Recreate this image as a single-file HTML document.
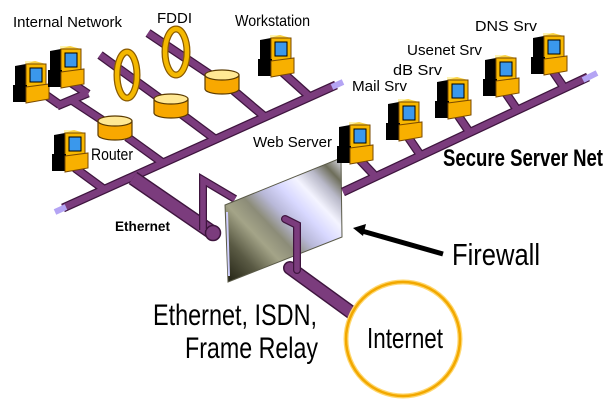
<!DOCTYPE html>
<html><head><meta charset="utf-8"><style>
html,body{margin:0;padding:0;background:#fff;}
svg{display:block;}
text{font-family:"Liberation Sans",Arial,sans-serif;fill:#000;}
</style></head><body>
<svg width="612" height="410" viewBox="0 0 612 410" xmlns="http://www.w3.org/2000/svg">
<defs>
<linearGradient id="fw" x1="0" y1="1" x2="1" y2="0">
<stop offset="0" stop-color="#1e1e10"/>
<stop offset="0.18" stop-color="#5a5a44"/>
<stop offset="0.32" stop-color="#a4a488"/>
<stop offset="0.42" stop-color="#8c8c78"/>
<stop offset="0.52" stop-color="#b8b8d8"/>
<stop offset="0.62" stop-color="#d8d8ff"/>
<stop offset="0.72" stop-color="#f4f4ff"/>
<stop offset="0.82" stop-color="#b8b8c8"/>
<stop offset="0.9" stop-color="#6e6e5a"/>
<stop offset="1" stop-color="#e8e8f8"/>
</linearGradient>
<g id="pc">
<rect x="12" y="0" width="9" height="3" fill="#fff4b0"/>
<polygon points="12,3 22,0 33,3 22,6" fill="#f8d040"/>
<polygon points="2,5 13,3 13,27 2,27" fill="#000"/>
<rect x="13" y="3" width="20" height="24" fill="#f8b800" stroke="#7a4a00" stroke-width="1"/>
<rect x="17" y="7" width="12" height="14" fill="#3a98ec" stroke="#000" stroke-width="1"/>
<rect x="0" y="24" width="14" height="17" fill="#000"/>
<polygon points="13,26 36,23 36,38 13,42" fill="#f8b000" stroke="#7a4a00" stroke-width="1"/>
</g>
<g id="cyl">
<path d="M1,5 v14 a17,5 0 0 0 34,0 v-14" fill="#f8a800" stroke="#5a3a00" stroke-width="1.2"/>
<ellipse cx="18" cy="5" rx="17" ry="5" fill="#ffe894" stroke="#5a3a00" stroke-width="1.2"/>
</g>
</defs>

<!-- pipes: outline layer -->
<g stroke="#3e153e" stroke-linecap="butt" fill="none" stroke-width="9">
<line x1="63" y1="208" x2="336" y2="85"/>
<line x1="75" y1="168" x2="105" y2="190"/>
<line x1="127" y1="137" x2="163" y2="163"/>
<line x1="180" y1="113" x2="215" y2="139"/>
<line x1="233" y1="90" x2="265" y2="117"/>
<line x1="280" y1="70" x2="310" y2="97"/>
<line x1="100" y1="55" x2="180" y2="113"/>
<line x1="148" y1="33" x2="233" y2="90"/>
<line x1="43" y1="93" x2="60" y2="105"/>
<line x1="57" y1="106" x2="88" y2="93"/>
<line x1="67" y1="80" x2="88" y2="94"/>
<line x1="70" y1="99" x2="105" y2="122"/>
</g>
<g stroke="#7b3c7d" stroke-linecap="butt" fill="none" stroke-width="6.5">
<line x1="63" y1="208" x2="336" y2="85"/>
<line x1="75" y1="168" x2="105" y2="190"/>
<line x1="127" y1="137" x2="163" y2="163"/>
<line x1="180" y1="113" x2="215" y2="139"/>
<line x1="233" y1="90" x2="265" y2="117"/>
<line x1="280" y1="70" x2="310" y2="97"/>
<line x1="100" y1="55" x2="180" y2="113"/>
<line x1="148" y1="33" x2="233" y2="90"/>
<line x1="43" y1="93" x2="60" y2="105"/>
<line x1="57" y1="106" x2="88" y2="93"/>
<line x1="67" y1="80" x2="88" y2="94"/>
<line x1="70" y1="99" x2="105" y2="122"/>
</g>
<line x1="55" y1="212" x2="66" y2="207" stroke="#b4a4f4" stroke-width="6"/>
<line x1="332" y1="87" x2="343" y2="82" stroke="#b4a4f4" stroke-width="6"/>

<!-- FDDI rings -->
<ellipse cx="127" cy="75" rx="10" ry="23" fill="none" stroke="#8a5a00" stroke-width="7"/>
<ellipse cx="127" cy="75" rx="10" ry="23" fill="none" stroke="#f4b800" stroke-width="4.5"/>
<ellipse cx="176" cy="52" rx="11" ry="23" fill="none" stroke="#8a5a00" stroke-width="7"/>
<ellipse cx="176" cy="52" rx="11" ry="23" fill="none" stroke="#f4b800" stroke-width="4.5"/>

<!-- cylinders -->
<use href="#cyl" x="97" y="116"/>
<use href="#cyl" x="153" y="94"/>
<use href="#cyl" x="204" y="70"/>

<!-- PCs left -->
<use href="#pc" x="13" y="61"/>
<use href="#pc" x="48" y="46"/>
<use href="#pc" x="52" y="130"/>
<use href="#pc" x="258" y="35"/>

<!-- Ethernet thick pipe -->
<line x1="133" y1="178" x2="213" y2="233" stroke="#3e153e" stroke-width="15"/>
<line x1="133" y1="178" x2="213" y2="233" stroke="#7b3c7d" stroke-width="12"/>
<circle cx="213" cy="233" r="7.5" fill="#7b3c7d" stroke="#3e153e" stroke-width="1.5"/>
<polyline points="203,230 203,180 235,199" fill="none" stroke="#3e153e" stroke-width="8"/>
<polyline points="203,230 203,180 235,199" fill="none" stroke="#7b3c7d" stroke-width="5.5"/>

<!-- firewall -->
<polygon points="225,205 341,158 342,237 228,282" fill="url(#fw)" stroke="#5a5a48" stroke-width="1"/>
<line x1="227" y1="212" x2="229" y2="276" stroke="#d0d0ff" stroke-width="2"/>

<!-- internet pipe -->
<line x1="290" y1="268" x2="352" y2="313" stroke="#3e153e" stroke-width="14" stroke-linecap="round"/>
<line x1="290" y1="268" x2="352" y2="313" stroke="#7b3c7d" stroke-width="11" stroke-linecap="round"/>
<polyline points="285,219 297,225 297,270" fill="none" stroke="#3e153e" stroke-width="8" stroke-linecap="round"/>
<polyline points="285,219 297,225 297,270" fill="none" stroke="#7b3c7d" stroke-width="5.5" stroke-linecap="round"/>

<!-- secure server backbone -->
<g stroke="#3e153e" stroke-width="9">
<line x1="343" y1="192" x2="588" y2="77"/>
<line x1="360" y1="160" x2="376" y2="177"/>
<line x1="406" y1="134" x2="421" y2="156"/>
<line x1="455" y1="111" x2="470" y2="133"/>
<line x1="503" y1="89" x2="518" y2="111"/>
<line x1="550" y1="67" x2="565" y2="89"/>
</g>
<g stroke="#7b3c7d" stroke-width="6.5">
<line x1="343" y1="192" x2="588" y2="77"/>
<line x1="360" y1="160" x2="376" y2="177"/>
<line x1="406" y1="134" x2="421" y2="156"/>
<line x1="455" y1="111" x2="470" y2="133"/>
<line x1="503" y1="89" x2="518" y2="111"/>
<line x1="550" y1="67" x2="565" y2="89"/>
</g>
<line x1="583" y1="80" x2="597" y2="73" stroke="#b4a4f4" stroke-width="6"/>

<use href="#pc" x="337" y="122"/>
<use href="#pc" x="386" y="99"/>
<use href="#pc" x="435" y="77"/>
<use href="#pc" x="483" y="55"/>
<use href="#pc" x="531" y="33"/>

<!-- arrow -->
<line x1="443" y1="254" x2="362" y2="231" stroke="#000" stroke-width="5"/>
<polygon points="353,228 366,224 363,236" fill="#000"/>

<!-- internet circle -->
<circle cx="403" cy="339" r="57" fill="#fff" stroke="#ffd870" stroke-width="5"/>
<circle cx="403" cy="339" r="57" fill="none" stroke="#f2a800" stroke-width="2.5"/>

<!-- labels -->
<text x="13" y="27" font-size="15" textLength="109" lengthAdjust="spacingAndGlyphs">Internal Network</text>
<text x="157" y="23" font-size="15" textLength="35" lengthAdjust="spacingAndGlyphs">FDDI</text>
<text x="235" y="26" font-size="16" textLength="75" lengthAdjust="spacingAndGlyphs">Workstation</text>
<text x="91" y="160" font-size="17" textLength="42" lengthAdjust="spacingAndGlyphs">Router</text>
<text x="115" y="231" font-size="14" font-weight="bold" textLength="55" lengthAdjust="spacingAndGlyphs">Ethernet</text>
<text x="253" y="147" font-size="15" textLength="79" lengthAdjust="spacingAndGlyphs">Web Server</text>
<text x="352" y="91" font-size="15" textLength="55" lengthAdjust="spacingAndGlyphs">Mail Srv</text>
<text x="393" y="75" font-size="15" textLength="49" lengthAdjust="spacingAndGlyphs">dB Srv</text>
<text x="407" y="55" font-size="15" textLength="75" lengthAdjust="spacingAndGlyphs">Usenet Srv</text>
<text x="475" y="31" font-size="15" textLength="62" lengthAdjust="spacingAndGlyphs">DNS Srv</text>
<text x="443" y="166" font-size="24" font-weight="bold" textLength="160" lengthAdjust="spacingAndGlyphs">Secure Server Net</text>
<text x="452" y="265" font-size="31" textLength="88" lengthAdjust="spacingAndGlyphs">Firewall</text>
<text x="153" y="325" font-size="30" textLength="164" lengthAdjust="spacingAndGlyphs">Ethernet, ISDN,</text>
<text x="185" y="358" font-size="30" textLength="133" lengthAdjust="spacingAndGlyphs">Frame Relay</text>
<text x="367" y="348" font-size="29" textLength="76" lengthAdjust="spacingAndGlyphs">Internet</text>
</svg>
</body></html>
